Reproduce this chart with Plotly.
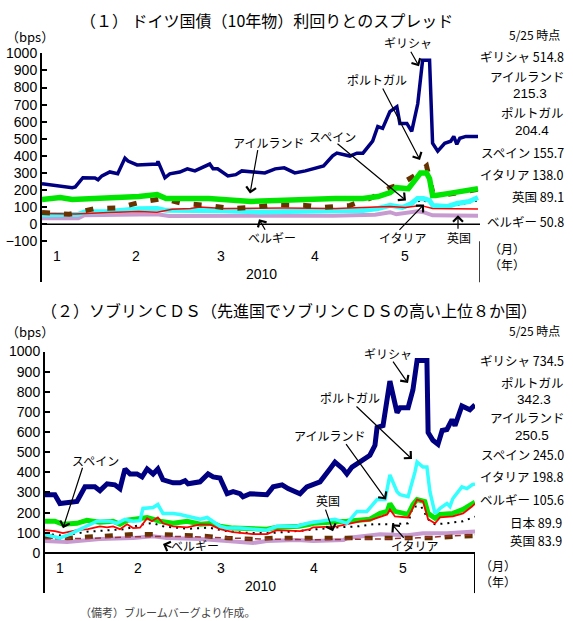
import plotly.graph_objects as go

W, H = 573, 621

# ---------------- Panel 1: 10y spread vs German Bund (bps) ----------------
sp_gr_d = [0,6,10,11,13.5,17.5,18.5,19.8,22.4,25,27.4,28.4,31.4,38,38.3,40.6,42.2,45.5,48,50.5,55.4,56.5,58,61.4,64,66,73.6,77,80,83.5,87,93,96,97.4,101.7,104,106,109.2,110.9,112.5,114.9,117.2,118.2,120.5,122.1,124.1,125.7,128,129,130.7,133,135,136,137,138,140,144]
sp_gr_v = [237,225,214,218,272,270,260,283,306,295,387,370,347,352,368,272,295,305,324,312,352,324,324,283,290,312,300,324,330,300,312,341,400,416,399,416,416,486,572,561,659,688,590,590,543,705,960,960,474,428,474,486,514,468,503,514,514]

sp_ie_d = [0,6,10,19,27,32,38,41,49,55,69,83,97,106,111,115,117,121,124,125,127,128,129,130,134,139,142,144]
sp_ie_v = [145,156,145,150,156,162,173,150,150,150,133,145,150,150,162,185,214,208,272,300,300,266,168,168,179,191,197,208]

sp_pt_d = [0,9,17.5,25,32,40,46.5,55,62,69.5,77.5,87,93,101.7,109,115,118,123,127,129,134,139,144]
sp_pt_v = [69,58,92,95,127,150,121,110,92,98,115,110,98,110,156,214,231,283,341,190,175,190,204]

sp_es_d = [0,12,14,22,32,38,41,49,60,72,86,96,106,111,115,119,122,124,126,128,129,134,137,141,144]
sp_es_v = [55,58,72,75,90,92,81,81,78,72,72,78,80,92,110,98,121,150,150,139,110,104,121,133,156]

sp_it_d = [0,12,14,25,32,38,41,55,70,90,106,111,116,119,122,125,128,129,134,140,144]
sp_it_v = [62,62,70,78,88,90,80,78,75,75,80,90,105,98,115,138,130,105,100,120,138]

sp_uk_d = [0,11,22,32,38,43,49,52,60,80,97,115,120,125,129,144]
sp_uk_v = [62,60,69,75,70,87,92,100,92,95,92,104,98,110,92,89]

sp_be_d = [0,12,14,30,38,42,50,70,90,96,110,115,117,124,126,129,144]
sp_be_v = [35,35,52,55,58,48,48,45,45,50,55,70,58,75,70,52,50]

# ---------------- Panel 2: sovereign CDS (bps) ----------------
cds_gr_d = [0,3.3,5,9.4,10.7,13.4,16.7,18.4,20.8,23.4,25.1,26.8,28.5,30.8,32.5,34.2,36.2,37.8,39.5,42.9,45.2,46.9,47.9,51.9,54.6,56.3,58.6,61,63,65.3,66.3,68.7,74.3,76.4,79.4,81.4,84.4,85.4,87.7,92.1,95.4,97.1,99.8,101.1,102.8,105.5,108.8,110.5,111.2,113.2,115.5,117.9,118.9,121.6,123.2,124.6,127.9,128.3,129.9,131.6,133,134.6,136.3,137.3,139.6,142.3,144]
cds_gr_v = [289,289,245,255,255,328,328,309,343,338,319,417,392,392,377,417,392,417,363,348,348,358,343,353,392,377,372,294,304,294,279,294,289,328,338,319,304,294,328,353,417,451,417,392,426,451,485,534,623,632,853,696,721,721,809,956,956,598,559,539,608,613,662,632,730,711,735]

cds_pt_d = [0,5,8.4,12.7,17.4,21.8,24.1,26.8,29.5,31.8,32.8,36.2,37.8,39.5,42.9,45.2,48.6,52,54.3,56.3,58.6,61,65.3,69.7,74.3,77.7,84.4,88,89.8,97.1,101.1,104.5,107.8,111.2,113.9,115.5,117.9,118.9,121.6,123.9,124.6,126.6,127.9,128.9,130.6,132.3,134.6,135.6,136.6,139.6,141.3,143,144]
cds_pt_v = [90,74,93,123,157,157,147,167,157,160,221,225,240,196,196,191,181,167,176,157,132,123,123,118,113,132,132,147,152,167,147,206,206,265,265,387,304,289,279,402,451,426,426,304,196,221,245,230,270,328,319,338,343]

cds_ie_d = [0,3.3,6,10.7,14,18.4,22.8,25.1,27.5,31.8,34.2,38.5,42.9,47.6,52,56.3,58.6,63,69.7,74.3,77.7,85,88.7,89.8,101.1,108.8,112.2,114.6,115.5,117.2,121.6,123.2,124.6,127.2,128.3,130.6,132.3,136.6,140,143,144]
cds_ie_v = [157,157,142,147,162,152,157,142,162,167,176,157,147,157,142,147,132,123,118,118,127,132,142,147,157,167,196,206,245,206,191,240,265,255,196,172,191,196,216,245,252]

cds_es_d = [0,3.3,6,10.7,14.4,18.4,20.8,22.8,25.1,27.5,29.5,31.8,34.2,35.8,37.8,39.5,42.9,47.6,52,55.3,58.6,63,69.7,74.3,77.7,85.4,88.7,89.8,97.8,101.1,105.5,108.8,114.6,115.5,117.2,121.6,123.2,124.6,126.6,128.3,130.6,132.3,136.6,140,143,144]
cds_es_v = [113,108,98,113,118,132,127,132,118,142,123,125,172,157,176,147,132,127,142,140,118,103,93,93,113,108,118,127,132,142,157,162,191,216,181,176,221,265,255,167,147,176,181,196,230,245]

cds_it_d = [0,6,14,20,27,32,36,40,48,55,60,66,75,86,96,105,110,115,121.6,123.2,126,128.3,130.6,134.6,140,144]
cds_it_v = [95,85,105,112,118,140,148,130,120,125,110,100,98,110,125,132,142,142,147,230,230,167,142,147,157,180]

cds_be_d = [0,7.4,18.4,29.5,36.2,40.8,52,63,69.7,74.3,84.4,89.8,100,101.1,112.2,121.3,126.6,134.6,144]
cds_be_v = [59,54,69,74,83,74,69,59,49,59,64,59,64,74,93,88,98,98,106]

cds_jp_d = [0,15,30,45,60,75,90,105,115,125,135,144]
cds_jp_v = [70,72,80,82,75,68,65,66,70,75,82,90]

cds_uk_d = [0,7.4,18.4,29.5,37.5,47.6,54.3,61,69.7,76.4,96,115.5,123.2,130,140,144]
cds_uk_v = [83,74,83,93,93,88,83,74,69,74,74,69,74,74,83,84]

month_pos = [5, 31, 59, 90, 120]
month_txt = ["1", "2", "3", "4", "5"]
year_txt = "2010"

# right-side value labels (text, y-pixel, anchor, x-pixel)
p1_right = [("5/25 時点", 27, "r", 562), ("ギリシャ 514.8", 49, "r", 566),
            ("アイルランド", 69, "r", 566), ("215.3", 87, "c", 530),
            ("ポルトガル", 106, "c", 532), ("204.4", 124, "c", 532),
            ("スペイン 155.7", 146, "r", 566), ("イタリア 138.0", 169, "r", 566),
            ("英国 89.1", 191, "r", 566), ("ベルギー 50.8", 216, "r", 566)]
p2_right = [("5/25 時点", 327, "r", 562), ("ギリシャ 734.5", 357, "r", 566),
            ("ポルトガル", 379, "c", 532), ("342.3", 397, "c", 534),
            ("アイルランド", 415, "r", 566), ("250.5", 433, "c", 532),
            ("スペイン 245.0", 452, "r", 566), ("イタリア 198.8", 475, "r", 566),
            ("ベルギー 105.6", 498, "r", 566), ("日本 89.9", 521, "r", 564), ("英国 83.9", 539, "r", 564)]

# in-plot labels with arrows: text, label centre, arrow tip, arrow tail (pixels)
p1_arrows = [("ギリシャ", (408, 35), (419, 59), (410, 43)),
             ("ポルトガル", (377, 72), (420, 154), (382, 81)),
             ("スペイン", (332, 130), (406, 195), (336, 137)),
             ("アイルランド", (268, 136), (250, 188), (258, 143)),
             ("ベルギー", (272, 232), (259, 214), (266, 226)),
             ("イタリア", (403, 232), (424, 199), (398, 226)),
             ("英国", (459, 232), (458, 210), (458, 225))]
p2_arrows = [("ギリシャ", (388, 350), (408, 380), (392, 357)),
             ("ポルトガル", (350, 395), (412, 457), (355, 403)),
             ("アイルランド", (329, 433), (386, 498), (345, 441)),
             ("スペイン", (95, 458), (63, 527), (83, 465)),
             ("英国", (328, 499), (333, 530), (325, 507)),
             ("イタリア", (415, 545), (392, 523), (405, 538)),
             ("ベルギー", (195, 545), (163, 543), (173, 547))]

JP = "Noto Sans CJK JP"
NUM = "Liberation Sans"

def px(x):
    return x / W

def py(y):
    return 1 - y / H

fig = go.Figure()

def add(xs, ys, color, width, dash=None, xa="x", ya="y"):
    fig.add_trace(go.Scatter(x=xs, y=ys, mode="lines", xaxis=xa, yaxis=ya,
                             line=dict(color=color, width=width, dash=dash),
                             showlegend=False, hoverinfo="skip"))

NAVY, GREEN, CYAN, RED, LILAC, BROWN, MAROON = "#000080", "#00E600", "#33FFFF", "#FF0000", "#C89BD0", "#663300", "#993333"

# panel 1 traces (bottom to top)
add(sp_be_d, sp_be_v, LILAC, 4)
add(sp_it_d, sp_it_v, "black", 1.5, "2px,4px")
add(sp_es_d, sp_es_v, CYAN, 5)
add(sp_uk_d, sp_uk_v, RED, 1.5)
add(sp_pt_d, sp_pt_v, BROWN, 5, "8px,14px")
add(sp_ie_d, sp_ie_v, GREEN, 5.5)
add(sp_gr_d, sp_gr_v, NAVY, 3.5)

# panel 2 traces
add(cds_be_d, cds_be_v, LILAC, 4, None, "x2", "y2")
add(cds_uk_d, cds_uk_v, BROWN, 4.5, "8px,12px", "x2", "y2")
add(cds_jp_d, cds_jp_v, MAROON, 1.5, "6px,4px", "x2", "y2")
add(cds_it_d, cds_it_v, "black", 2, "2px,5px", "x2", "y2")
add(cds_ie_d, cds_ie_v, GREEN, 5, None, "x2", "y2")
add(cds_es_d, cds_es_v, RED, 1.8, None, "x2", "y2")
add(cds_pt_d, cds_pt_v, CYAN, 3.5, None, "x2", "y2")
add(cds_gr_d, cds_gr_v, NAVY, 5, None, "x2", "y2")

X1MAX = 144 * 438 / 436
X2MAX = 144
Y1MIN, Y2MIN = -341, -201

yax = dict(showline=True, linewidth=2, linecolor="black", ticks="inside", ticklen=5, tickwidth=2,
           tickcolor="black", showgrid=False, zeroline=False,
           tickfont=dict(family=NUM, size=14, color="black"))
xax = dict(showline=False, showgrid=False, zeroline=False, showticklabels=False, ticks="")

fig.update_layout(
    width=W, height=H, margin=dict(l=0, r=0, t=0, b=0),
    plot_bgcolor="white", paper_bgcolor="white",
    xaxis=dict(domain=[px(42), px(480)], range=[0, X1MAX], **xax),
    yaxis=dict(domain=[py(278), py(46)], range=[Y1MIN, 1000], tickvals=list(range(-100, 1001, 100)), **yax),
    xaxis2=dict(domain=[px(45), px(475)], range=[0, X2MAX], anchor="y2", **xax),
    yaxis2=dict(domain=[py(593), py(348)], range=[Y2MIN, 1000], anchor="x2", tickvals=list(range(0, 1001, 100)), **yax),
)

shapes = [
    dict(type="line", xref="x", yref="y", x0=0, x1=X1MAX, y0=0, y1=0, line=dict(color="black", width=1.5)),
    dict(type="line", xref="x", yref="y", x0=X1MAX, x1=X1MAX, y0=-100, y1=Y1MIN, line=dict(color="black", width=1.5)),
    dict(type="line", xref="x2", yref="y2", x0=0, x1=X2MAX, y0=0, y1=0, line=dict(color="black", width=2)),
    dict(type="line", xref="x2", yref="y2", x0=X2MAX, x1=X2MAX, y0=0, y1=Y2MIN, line=dict(color="black", width=2)),
]
fig.update_layout(shapes=shapes)

ann = []

def txt(t, x, y, size=12, anchor="center", family=JP, color="black", align="center"):
    ann.append(dict(text=t, x=px(x), y=py(y), xref="paper", yref="paper", showarrow=False,
                    xanchor=anchor, yanchor="middle", align=align,
                    font=dict(family=family, size=size, color=color)))

# titles
txt("（１） ドイツ国債（10年物）利回りとのスプレッド", 266, 12, 16)
txt("（２）ソブリンＣＤＳ（先進国でソブリンＣＤＳの高い上位８か国）", 289, 306, 16)
txt("（bps）", 30, 29, 13)
txt("（bps）", 30, 328, 13)
txt("（備考）ブルームバーグより作成。", 78, 612, 11, "left", JP, "#444444")

for t, y, a, x in p1_right + p2_right:
    size = 12 if t.startswith("5/25") else 12.5
    fam = NUM if t[0].isdigit() and " " not in t else JP
    if fam == NUM:
        size = 13.5
    txt(t, x, y, size, "right" if a == "r" else "center", family=fam)

# month / year labels (data coordinates)
for pos, m in zip(month_pos, month_txt):
    ann.append(dict(text=m, x=pos, y=-185, xref="x", yref="y", showarrow=False,
                    font=dict(family=NUM, size=14, color="black")))
    ann.append(dict(text=m, x=pos, y=-74, xref="x2", yref="y2", showarrow=False,
                    font=dict(family=NUM, size=14, color="black")))
ann.append(dict(text=year_txt, x=72.6, y=-289, xref="x", yref="y", showarrow=False,
                font=dict(family=NUM, size=14, color="black")))
ann.append(dict(text=year_txt, x=72, y=-162, xref="x2", yref="y2", showarrow=False,
                font=dict(family=NUM, size=14, color="black")))
txt("（月）<br>（年）", 507, 252, 12)
txt("（月）<br>（年）", 498, 573, 12)

for t, lab, tip, tail in p1_arrows + p2_arrows:
    txt(t, lab[0], lab[1], 12)
    ann.append(dict(text="", x=px(tip[0]), y=py(tip[1]), xref="paper", yref="paper",
                    showarrow=True, ax=tail[0] - tip[0], ay=tail[1] - tip[1],
                    arrowhead=4, arrowsize=1.6, arrowwidth=1.2, arrowcolor="black", standoff=0))

fig.update_layout(annotations=ann)
fig.write_html("out.html")
